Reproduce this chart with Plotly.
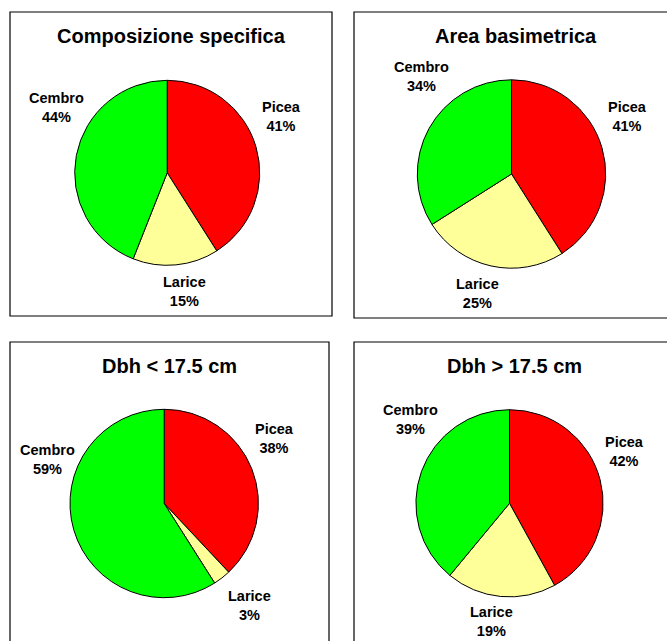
import plotly.graph_objects as go

W, H = 667, 641

species = ["Picea", "Larice", "Cembro"]
colors = ["#FF0000", "#FFFF99", "#00FF00"]

titles = ["Composizione specifica", "Area basimetrica", "Dbh < 17.5 cm", "Dbh > 17.5 cm"]
comp_specifica = [41, 15, 44]
area_basimetrica = [41, 25, 34]
dbh_small = [38, 3, 59]
dbh_large = [42, 19, 39]
series = [comp_specifica, area_basimetrica, dbh_small, dbh_large]

# panel layout in pixels: frame box, pie centre + radius, title centre, label centres
panels = [
    dict(box=(10, 12, 332, 316), centre=(167.2, 172.8), r=92.5, title=(171.7, 36),
         labels=[(281, 117), (184.3, 291.5), (56.8, 107.7)]),
    dict(box=(354, 12, 700, 318), centre=(511.5, 174), r=94.2, title=(515.7, 36),
         labels=[(627.5, 117), (477.7, 293), (421.2, 76.7)]),
    dict(box=(10, 342, 329, 700), centre=(164.2, 503.5), r=94.2, title=(169.7, 366),
         labels=[(274, 438.3), (250, 605.7), (47.5, 459.3)]),
    dict(box=(354, 342, 700, 700), centre=(509.5, 503.3), r=93.6, title=(514.5, 366),
         labels=[(624, 451), (491.7, 621.7), (410, 419.7)]),
]


def px(x):
    return x / W


def py(y):
    return 1 - y / H


FONT = "Liberation Sans, Arial, sans-serif"

fig = go.Figure()
shapes = []
annotations = []

for title, values, p in zip(titles, series, panels):
    cx, cy = p["centre"]
    r = p["r"]
    fig.add_trace(go.Pie(
        labels=species,
        values=values,
        sort=False,
        direction="clockwise",
        rotation=0,
        marker=dict(colors=colors, line=dict(color="black", width=1)),
        textinfo="none",
        hoverinfo="label+percent",
        showlegend=False,
        domain=dict(x=[px(cx - r), px(cx + r)], y=[py(cy + r), py(cy - r)]),
    ))

    x0, y0, x1, y1 = p["box"]
    shapes.append(dict(type="rect", xref="paper", yref="paper",
                       x0=px(x0), x1=px(x1), y0=py(y1), y1=py(y0),
                       line=dict(color="black", width=1.2), fillcolor="rgba(0,0,0,0)"))

    tx, ty = p["title"]
    annotations.append(dict(text=f"<b>{title}</b>", x=px(tx), y=py(ty),
                            xref="paper", yref="paper", showarrow=False,
                            xanchor="center", yanchor="middle",
                            font=dict(family=FONT, size=20, color="black")))

    for name, val, (lx, ly) in zip(species, values, p["labels"]):
        annotations.append(dict(text=f"<b>{name}<br>{val}%</b>", x=px(lx), y=py(ly),
                                xref="paper", yref="paper", showarrow=False,
                                xanchor="center", yanchor="middle", align="center",
                                font=dict(family=FONT, size=14.5, color="black")))

fig.update_layout(
    width=W, height=H,
    margin=dict(l=0, r=0, t=0, b=0),
    paper_bgcolor="white",
    plot_bgcolor="white",
    shapes=shapes,
    annotations=annotations,
)

fig.write_html("out.html")
